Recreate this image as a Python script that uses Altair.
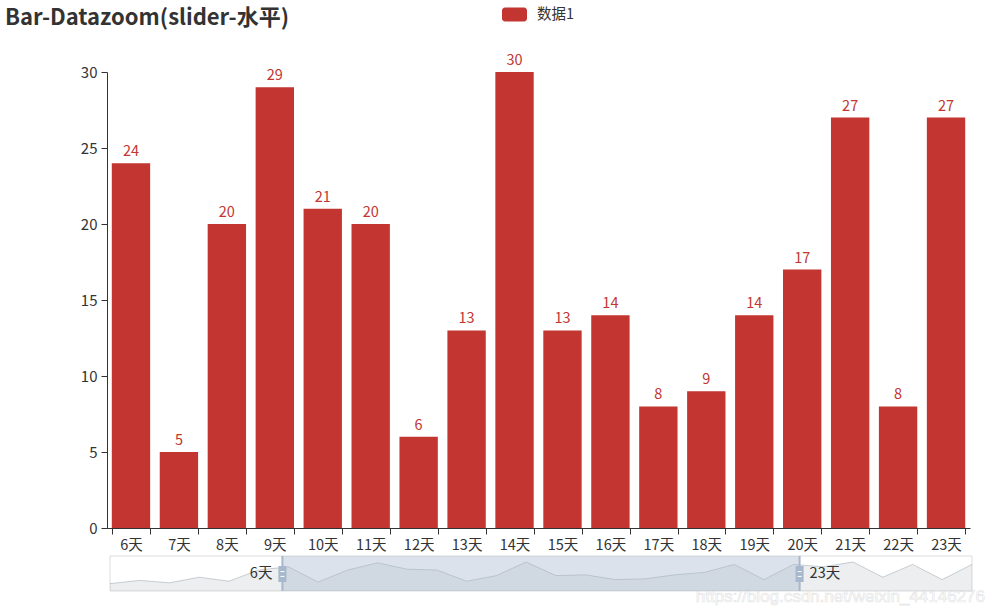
import altair as alt
import pandas as pd

# ---------------- data ----------------
days = ["0天", "1天", "2天", "3天", "4天", "5天", "6天", "7天", "8天", "9天",
        "10天", "11天", "12天", "13天", "14天", "15天", "16天", "17天", "18天", "19天",
        "20天", "21天", "22天", "23天", "24天", "25天", "26天", "27天", "28天", "29天"]
values = [3, 7, 4, 11, 6, 20, 24, 5, 20, 29,
          21, 20, 6, 13, 30, 13, 14, 8, 9, 14,
          17, 27, 8, 27, 24, 30, 11, 27, 8, 27]
series_name = ["数据1"]
zoom_start_idx = 5.8     # 20 %
zoom_end_idx = 23.2      # 80 %
zoom_labels = ["6天", "23天"]
y_ticks = [0, 5, 10, 15, 20, 25, 30]

shown_days = days[6:24]
shown_vals = values[6:24]

FONT = "Microsoft YaHei, Noto Sans CJK SC, sans-serif"
RED = "#c23531"
TXT = "#333333"
FS = 14.5

# ---------------- main bar chart ----------------
bars_df = pd.DataFrame({"day": shown_days, "value": shown_vals,
                        "series": series_name * len(shown_days)})

xs = alt.X("day:N", sort=shown_days,
           scale=alt.Scale(domain=shown_days, paddingInner=0.2, paddingOuter=0.1),
           axis=alt.Axis(title=None, labelAngle=0, tickBand="extent", grid=False,
                         domainColor=TXT, tickColor=TXT, tickSize=6,
                         labelColor=TXT, labelFontSize=FS, labelFont=FONT,
                         labelPadding=4))
ys = alt.Y("value:Q",
           scale=alt.Scale(domain=[0, 30], nice=False),
           axis=alt.Axis(title=None, values=y_ticks, grid=False,
                         domainColor=TXT, tickColor=TXT, tickSize=6,
                         labelColor=TXT, labelFontSize=15, labelFont=FONT,
                         labelPadding=4))

base = alt.Chart(bars_df).encode(x=xs, y=ys)

legend_shape = ("M-0.76,-0.56H0.76A0.24,0.24 0 0 1 1,-0.32V0.32"
                "A0.24,0.24 0 0 1 0.76,0.56H-0.76A0.24,0.24 0 0 1 -1,0.32"
                "V-0.32A0.24,0.24 0 0 1 -0.76,-0.56Z")

bars = base.mark_bar().encode(
    color=alt.Color("series:N",
                    scale=alt.Scale(domain=series_name, range=[RED]),
                    legend=alt.Legend(title=None, orient="none",
                                      legendX=395, legendY=-70,
                                      symbolType=legend_shape, symbolSize=625,
                                      symbolStrokeWidth=0, symbolOpacity=1,
                                      labelFontSize=FS, labelColor=TXT,
                                      labelFont=FONT, labelOffset=10,
                                      padding=0))
)
labels = base.mark_text(baseline="alphabetic", dy=-7, color=RED,
                        fontSize=FS, font=FONT).encode(text="value:Q")

watermark = alt.Chart(pd.DataFrame({"t": ["https://blog.csdn.net/weixin_44146276"]})).mark_text(
    align="right", baseline="middle", fontSize=17, font="Arial, Liberation Sans",
    fill="white", stroke="#e6e6e6", strokeWidth=0.7
).encode(x=alt.value(878), y=alt.value(525), text="t:N")

main = alt.layer(bars, labels, watermark)

# ---------------- datazoom slider ----------------
lo, hi = -6.25, 37.5
sx_scale = alt.Scale(domain=[0, 29], range=[3, 865], nice=False, zero=False)
sy_scale = alt.Scale(domain=[lo, hi], range=[519, 484], nice=False, zero=False)

prev_df = pd.DataFrame({"idx": list(range(len(days))), "value": values,
                        "base": [lo] * len(days)})
box_df = pd.DataFrame({"x0": [0], "x1": [29], "y0": [lo], "y1": [hi]})
fill_df = pd.DataFrame({"x0": [zoom_start_idx], "x1": [zoom_end_idx], "y0": [lo], "y1": [hi]})
handle_df = pd.DataFrame({"x": [zoom_start_idx, zoom_end_idx], "y0": [lo, lo], "y1": [hi, hi],
                          "ym": [15, 15], "lab": zoom_labels})


def SX(f):
    return alt.X(f, scale=sx_scale, axis=None)


def SY(f):
    return alt.Y(f, scale=sy_scale, axis=None)


box = alt.Chart(box_df).mark_rect(fill="white", stroke="#dddddd", strokeWidth=1).encode(
    x=SX("x0:Q"), x2="x1:Q", y=SY("y0:Q"), y2="y1:Q")
area = alt.Chart(prev_df).mark_area(fill="#2f4554", fillOpacity=0.09).encode(
    x=SX("idx:Q"), y=SY("value:Q"), y2="base:Q")
line = alt.Chart(prev_df).mark_line(stroke="#2f4554", strokeOpacity=0.3, strokeWidth=0.8).encode(
    x=SX("idx:Q"), y=SY("value:Q"))
filler = alt.Chart(fill_df).mark_rect(fill="#a7b7cc", fillOpacity=0.4).encode(
    x=SX("x0:Q"), x2="x1:Q", y=SY("y0:Q"), y2="y1:Q")
hlines = alt.Chart(handle_df).mark_rule(stroke="#a7b7cc", strokeWidth=2).encode(
    x=SX("x:Q"), y=SY("y0:Q"), y2="y1:Q")
hrect = alt.Chart(handle_df).mark_point(
    shape="M-0.5,-1H0.5V1H-0.5Z", size=256, filled=True, fill="#a7b7cc", opacity=1,
    strokeWidth=0).encode(x=SX("x:Q"), y=SY("ym:Q"))
hgrip = alt.Chart(handle_df).mark_point(
    shape="M-0.25,-0.3H0.25M-0.25,0.3H0.25", size=256, filled=False, stroke="white",
    strokeWidth=1, opacity=1).encode(x=SX("x:Q"), y=SY("ym:Q"))
hlab_l = alt.Chart(handle_df.iloc[[0]]).mark_text(
    align="right", baseline="middle", dx=-10, fontSize=FS, font=FONT, color=TXT).encode(
    x=SX("x:Q"), y=SY("ym:Q"), text="lab:N")
hlab_r = alt.Chart(handle_df.iloc[[1]]).mark_text(
    align="left", baseline="middle", dx=10, fontSize=FS, font=FONT, color=TXT).encode(
    x=SX("x:Q"), y=SY("ym:Q"), text="lab:N")

slider = alt.layer(box, area, line, filler, hlines, hrect, hgrip, hlab_l, hlab_r)

chart = alt.layer(main, slider).resolve_scale(
    x="independent", y="independent"
).properties(
    width=863, height=456,
    padding={"left": 107, "top": 72, "right": 24, "bottom": 85},
    autosize=alt.AutoSizeParams(type="none"),
    title=alt.TitleParams("Bar-Datazoom(slider-水平)", anchor="start", frame="group",
                          fontSize=22, fontWeight="bold", color=TXT, font=FONT,
                          dx=-102, offset=-28),
).configure(font=FONT, view=alt.ViewConfig(stroke=None))

chart.save("out.html", embed_options={"renderer": "svg", "actions": False})
